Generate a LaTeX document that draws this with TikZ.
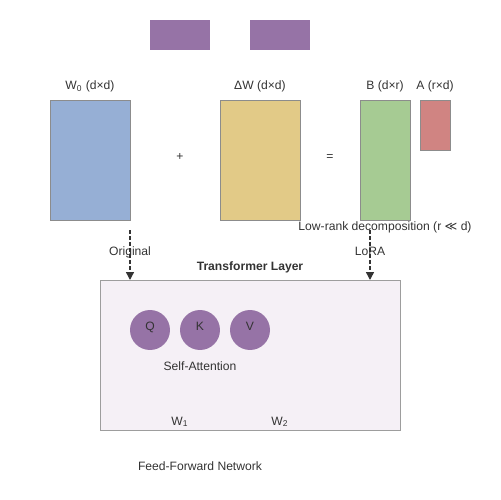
\documentclass[tikz,border=0pt]{standalone}
\usepackage{fontspec}
\setmainfont{Liberation Sans}
\newfontfamily\symbolfont{DejaVu Sans}
\usetikzlibrary{arrows.meta}
\definecolor{textGray}{HTML}{333333}
\definecolor{edgeGray}{HTML}{8C8C8C}
\definecolor{matBlue}{HTML}{96AFD5}
\definecolor{matYellow}{HTML}{E2CA87}
\definecolor{matGreen}{HTML}{A6CB93}
\definecolor{matRed}{HTML}{D08482}
\definecolor{headPurple}{HTML}{9673A6}
\definecolor{layerBg}{HTML}{F5F0F6}
\tikzset{
textstyle/.style={text=textGray, font=\fontsize{6.9}{8}\selectfont, inner sep=0pt, anchor=base},
matstyle/.style={rectangle, draw=edgeGray, line width=0.6pt, inner sep=0pt, anchor=north west},
headstyle/.style={circle, fill=headPurple, minimum size=0.8cm, inner sep=0pt, text=textGray, font=\fontsize{6.9}{8}\selectfont, text height=2.5pt, text depth=2.5pt},
linkstyle/.style={draw=textGray, line width=0.8pt, dash pattern=on 2.3pt off 1.1pt, -{Triangle[length=4.5pt, width=4.5pt]}}
}
\begin{document}
\begin{tikzpicture}[x=0.02cm, y=-0.02cm]
\useasboundingbox (0,0) rectangle (500,500);

% top blocks
\node [rectangle, fill=headPurple, anchor=north west, inner sep=0pt, minimum width=1.2cm, minimum height=0.6cm] (topa) at (150,20) {};
\node [rectangle, fill=headPurple, anchor=north west, inner sep=0pt, minimum width=1.2cm, minimum height=0.6cm] (topb) at (250,20) {};

% weight matrices
\node [matstyle, fill=matBlue, minimum width=1.6cm, minimum height=2.4cm] (wzero) at (50,100) {};
\node [matstyle, fill=matYellow, minimum width=1.6cm, minimum height=2.4cm] (deltaw) at (220,100) {};
\node [matstyle, fill=matGreen, minimum width=1.0cm, minimum height=2.4cm] (bmat) at (360,100) {};
\node [matstyle, fill=matRed, minimum width=0.6cm, minimum height=1.0cm] (amat) at (420,100) {};

\node [textstyle] (wzerolabel) at (90,90) {W\textsubscript{0} (d×d)};
\node [textstyle] (deltawlabel) at (260,90) {ΔW (d×d)};
\node [textstyle] (bmatlabel) at (385,90) {B (d×r)};
\node [textstyle] (amatlabel) at (435,90) {A (r×d)};
\node [textstyle] (plus) at (180,160) {+};
\node [textstyle] (equals) at (330,160) {=};
\node [textstyle] (lowrank) at (385,230) {Low-rank decomposition (r {\symbolfont ≪} d)};

% transformer layer
\node [rectangle, draw=edgeGray!85, fill=layerBg, line width=0.8pt, anchor=north west, inner sep=0pt, minimum width=6cm, minimum height=3cm] (layer) at (100,280) {};
\node [textstyle, font=\fontsize{6.9}{8}\selectfont\bfseries] (layertitle) at (250,270) {Transformer Layer};

\node [headstyle] (q) at (150,330) {Q};
\node [headstyle] (k) at (200,330) {K};
\node [headstyle] (v) at (250,330) {V};
\node [textstyle] (attn) at (200,370) {Self-Attention};
\node [textstyle] (wone) at (180,425) {W\textsubscript{1}};
\node [textstyle] (wtwo) at (280,425) {W\textsubscript{2}};
\node [textstyle] (ffn) at (200,470) {Feed-Forward Network};

% links
\coordinate (origstart) at (130,230);
\coordinate (lorastart) at (370,230);
\draw [linkstyle] (origstart) -- (origstart |- layer.north);
\draw [linkstyle] (lorastart) -- (lorastart |- layer.north);
\node [textstyle] (origlabel) at (130,255) {Original};
\node [textstyle] (loralabel) at (370,255) {LoRA};
\end{tikzpicture}
\end{document}
